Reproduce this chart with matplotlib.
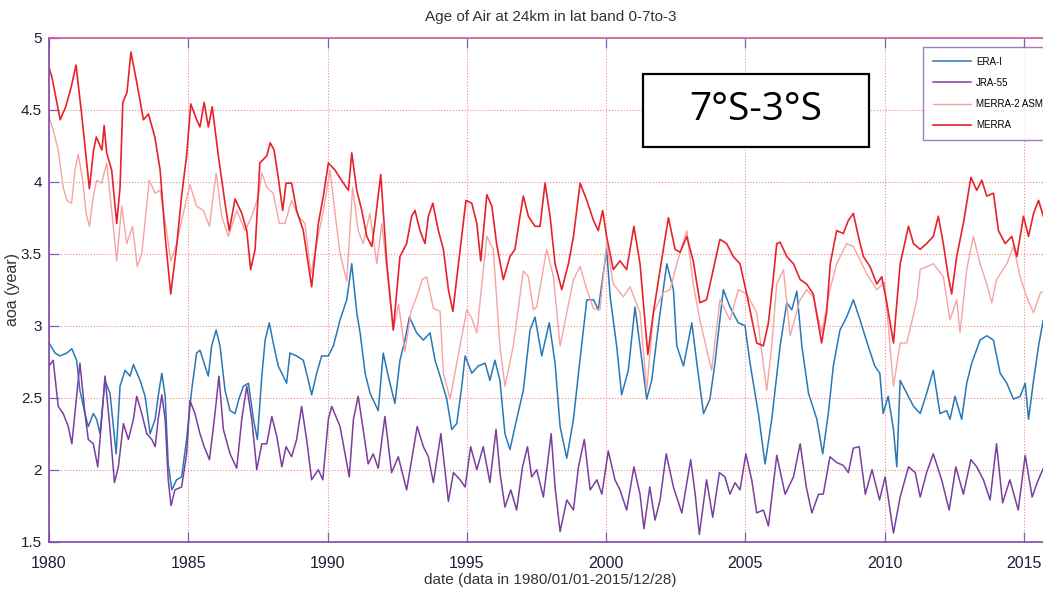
import matplotlib
matplotlib.use("Agg")
import matplotlib.pyplot as plt
from matplotlib.patches import Rectangle

# ---------------------------------------------------------------
# data (decimal year, age of air in years)
# ---------------------------------------------------------------
merra_t = [1980.0, 1980.1, 1980.33, 1980.4, 1980.6, 1980.8, 1980.97, 1981.17, 1981.45, 1981.6,
           1981.7, 1981.9, 1981.98, 1982.07, 1982.25, 1982.43, 1982.55, 1982.65, 1982.8, 1982.94,
           1983.15, 1983.39, 1983.57, 1983.8, 1983.99, 1984.17, 1984.37, 1984.58, 1984.76, 1984.94,
           1985.09, 1985.3, 1985.42, 1985.57, 1985.72, 1985.86, 1986.08, 1986.32, 1986.47, 1986.68,
           1986.92, 1987.1, 1987.24, 1987.4, 1987.57, 1987.82, 1987.94, 1988.08, 1988.23, 1988.39,
           1988.51, 1988.71, 1988.89, 1989.13, 1989.43, 1989.67, 1989.85, 1990.03, 1990.27, 1990.57,
           1990.75, 1990.87, 1991.05, 1991.23, 1991.41, 1991.59, 1991.7, 1991.91, 1992.13, 1992.36,
           1992.6, 1992.84, 1993.02, 1993.14, 1993.32, 1993.5, 1993.62, 1993.78, 1993.98, 1994.16,
           1994.34, 1994.5, 1994.7, 1994.97, 1995.18, 1995.36, 1995.5, 1995.72, 1995.9, 1996.07,
           1996.31, 1996.55, 1996.73, 1996.91, 1997.03, 1997.21, 1997.45, 1997.63, 1997.81, 1997.99,
           1998.17, 1998.41, 1998.65, 1998.83, 1999.07, 1999.31, 1999.55, 1999.72, 1999.88, 2000.02,
           2000.26, 2000.5, 2000.74, 2001.0, 2001.22, 2001.5, 2001.7, 2001.95, 2002.24, 2002.48,
           2002.66, 2002.9, 2003.13, 2003.37, 2003.61, 2003.85, 2004.09, 2004.33, 2004.57, 2004.81,
           2005.05, 2005.41, 2005.65, 2005.83, 2006.0, 2006.13, 2006.25, 2006.49, 2006.73, 2006.97,
           2007.2, 2007.44, 2007.74, 2007.92, 2008.05, 2008.28, 2008.52, 2008.7, 2008.88, 2009.06,
           2009.24, 2009.48, 2009.72, 2009.9, 2010.08, 2010.32, 2010.56, 2010.86, 2011.04, 2011.28,
           2011.51, 2011.75, 2011.93, 2012.11, 2012.29, 2012.41, 2012.59, 2012.83, 2013.1, 2013.31,
           2013.49, 2013.67, 2013.91, 2014.09, 2014.33, 2014.57, 2014.75, 2014.99, 2015.17, 2015.35,
           2015.53, 2015.7, 2015.99]
merra_v = [4.79, 4.73, 4.50, 4.43, 4.52, 4.66, 4.81, 4.47, 3.95, 4.22,
           4.31, 4.22, 4.39, 4.20, 4.08, 3.71, 3.96, 4.55, 4.62, 4.90,
           4.69, 4.43, 4.47, 4.31, 4.08, 3.62, 3.22, 3.55, 3.90, 4.18,
           4.54, 4.43, 4.38, 4.55, 4.38, 4.52, 4.18, 3.85, 3.66, 3.88,
           3.78, 3.66, 3.39, 3.53, 4.13, 4.18, 4.27, 4.22, 4.03, 3.80,
           3.99, 3.99, 3.80, 3.66, 3.27, 3.71, 3.90, 4.13, 4.08, 3.99,
           3.94, 4.20, 3.94, 3.80, 3.62, 3.55, 3.71, 4.05, 3.43, 2.97,
           3.48, 3.57, 3.76, 3.80, 3.66, 3.57, 3.76, 3.85, 3.66, 3.53,
           3.25, 3.10, 3.43, 3.87, 3.85, 3.71, 3.45, 3.91, 3.83, 3.57,
           3.32, 3.48, 3.53, 3.76, 3.90, 3.76, 3.69, 3.69, 3.99, 3.76,
           3.43, 3.25, 3.43, 3.62, 3.99, 3.87, 3.73, 3.66, 3.80, 3.62,
           3.39, 3.45, 3.39, 3.69, 3.43, 2.80, 3.09, 3.40, 3.75, 3.53,
           3.51, 3.62, 3.45, 3.16, 3.18, 3.39, 3.60, 3.57, 3.48, 3.43,
           3.22, 2.88, 2.86, 3.02, 3.32, 3.57, 3.58, 3.48, 3.43, 3.32,
           3.29, 3.22, 2.88, 3.09, 3.43, 3.66, 3.64, 3.73, 3.78, 3.62,
           3.48, 3.41, 3.29, 3.34, 3.16, 2.88, 3.43, 3.69, 3.57, 3.53,
           3.57, 3.62, 3.76, 3.57, 3.34, 3.22, 3.48, 3.71, 4.03, 3.94,
           4.01, 3.90, 3.92, 3.66, 3.57, 3.62, 3.48, 3.76, 3.62, 3.78,
           3.87, 3.76, 3.78]

merra2_t = [1980.0, 1980.15, 1980.33, 1980.51, 1980.64, 1980.81, 1980.93, 1981.05, 1981.21, 1981.33,
            1981.45, 1981.59, 1981.71, 1981.89, 1982.07, 1982.25, 1982.43, 1982.61, 1982.79, 1983.0,
            1983.17, 1983.33, 1983.6, 1983.81, 1983.99, 1984.22, 1984.37, 1984.58, 1984.82, 1985.06,
            1985.3, 1985.54, 1985.76, 1986.0, 1986.2, 1986.44, 1986.74, 1987.04, 1987.28, 1987.52,
            1987.64, 1987.82, 1988.05, 1988.27, 1988.47, 1988.71, 1988.95, 1989.19, 1989.4, 1989.61,
            1989.85, 1990.09, 1990.27, 1990.45, 1990.69, 1990.9, 1991.1, 1991.28, 1991.52, 1991.77,
            1991.95, 1992.13, 1992.36, 1992.55, 1992.78, 1993.0, 1993.2, 1993.4, 1993.56, 1993.8,
            1994.04, 1994.16, 1994.4, 1994.64, 1995.0, 1995.18, 1995.36, 1995.55, 1995.72, 1995.95,
            1996.19, 1996.37, 1996.67, 1997.03, 1997.21, 1997.39, 1997.51, 1997.87, 1998.11, 1998.35,
            1998.59, 1998.83, 1999.07, 1999.31, 1999.55, 1999.78, 2000.02, 2000.26, 2000.62, 2000.86,
            2001.22, 2001.46, 2001.7, 2002.06, 2002.3, 2002.54, 2002.9, 2003.13, 2003.37, 2003.79,
            2004.09, 2004.45, 2004.75, 2005.05, 2005.41, 2005.77, 2005.95, 2006.13, 2006.37, 2006.61,
            2006.97, 2007.2, 2007.44, 2007.74, 2008.04, 2008.28, 2008.64, 2008.88, 2009.06, 2009.36,
            2009.72, 2010.0, 2010.32, 2010.56, 2010.8, 2011.16, 2011.28, 2011.75, 2012.11, 2012.35,
            2012.59, 2012.71, 2012.95, 2013.19, 2013.43, 2013.67, 2013.85, 2014.02, 2014.39, 2014.63,
            2014.87, 2015.1, 2015.35, 2015.6, 2015.99]
merra2_v = [4.45, 4.36, 4.22, 3.96, 3.87, 3.85, 4.08, 4.19, 4.01, 3.78,
            3.69, 3.90, 4.01, 3.99, 4.13, 3.80, 3.45, 3.83, 3.57, 3.69,
            3.41, 3.50, 4.01, 3.92, 3.94, 3.66, 3.45, 3.57, 3.78, 3.98,
            3.83, 3.80, 3.69, 4.06, 3.76, 3.62, 3.80, 3.66, 3.76, 3.90,
            4.06, 3.96, 3.92, 3.71, 3.71, 3.87, 3.76, 3.71, 3.36, 3.57,
            3.80, 4.08, 3.78, 3.50, 3.31, 3.96, 3.66, 3.57, 3.78, 3.43,
            3.71, 3.39, 2.97, 3.15, 2.82, 3.10, 3.20, 3.32, 3.34, 3.12,
            3.10, 2.67, 2.49, 2.74, 3.11, 3.05, 2.95, 3.30, 3.62, 3.53,
            2.86, 2.58, 2.86, 3.38, 3.34, 3.11, 3.13, 3.53, 3.34, 2.86,
            3.09, 3.32, 3.41, 3.25, 3.12, 3.11, 3.57, 3.29, 3.20, 3.27,
            3.09, 2.55, 3.09, 3.23, 3.25, 3.43, 3.66, 3.29, 3.04, 2.69,
            3.18, 3.04, 3.25, 3.22, 3.09, 2.55, 2.86, 3.29, 3.39, 2.93,
            3.18, 3.25, 3.20, 2.95, 3.25, 3.43, 3.57, 3.55, 3.48, 3.36,
            3.25, 3.30, 2.58, 2.88, 2.88, 3.18, 3.39, 3.43, 3.34, 3.04,
            3.18, 2.95, 3.39, 3.62, 3.43, 3.29, 3.16, 3.32, 3.43, 3.55,
            3.34, 3.20, 3.09, 3.23, 3.25]

era_t = [1980.0, 1980.22, 1980.39, 1980.64, 1980.82, 1980.99, 1981.11, 1981.29, 1981.41, 1981.59,
         1981.71, 1981.83, 1982.01, 1982.19, 1982.41, 1982.55, 1982.73, 1982.91, 1983.03, 1983.27,
         1983.45, 1983.63, 1983.81, 1983.92, 1984.05, 1984.17, 1984.28, 1984.41, 1984.58, 1984.76,
         1984.94, 1985.12, 1985.3, 1985.42, 1985.6, 1985.72, 1985.84, 1986.0, 1986.14, 1986.32,
         1986.5, 1986.68, 1986.8, 1986.98, 1987.16, 1987.34, 1987.48, 1987.64, 1987.76, 1987.91,
         1988.05, 1988.23, 1988.41, 1988.53, 1988.65, 1988.89, 1989.13, 1989.31, 1989.43, 1989.61,
         1989.79, 1990.03, 1990.21, 1990.45, 1990.69, 1990.87, 1991.05, 1991.17, 1991.35, 1991.53,
         1991.82, 1992.0, 1992.18, 1992.42, 1992.6, 1992.78, 1992.94, 1993.2, 1993.44, 1993.68,
         1993.86, 1994.04, 1994.28, 1994.46, 1994.64, 1994.82, 1994.94, 1995.18, 1995.41, 1995.66,
         1995.83, 1996.01, 1996.19, 1996.37, 1996.55, 1996.79, 1997.03, 1997.27, 1997.45, 1997.69,
         1997.96, 1998.17, 1998.35, 1998.59, 1998.83, 1999.01, 1999.31, 1999.55, 1999.72, 2000.02,
         2000.15, 2000.38, 2000.56, 2000.8, 2001.04, 2001.22, 2001.46, 2001.64, 2001.88, 2002.18,
         2002.42, 2002.54, 2002.78, 2003.08, 2003.26, 2003.5, 2003.73, 2003.91, 2004.21, 2004.45,
         2004.75, 2004.99, 2005.17, 2005.47, 2005.71, 2005.95, 2006.25, 2006.49, 2006.67, 2006.85,
         2007.03, 2007.27, 2007.57, 2007.78, 2007.98, 2008.16, 2008.4, 2008.64, 2008.88, 2009.12,
         2009.41, 2009.65, 2009.83, 2009.95, 2010.13, 2010.32, 2010.44, 2010.56, 2010.8, 2011.04,
         2011.28, 2011.51, 2011.75, 2011.99, 2012.23, 2012.35, 2012.53, 2012.77, 2012.95, 2013.13,
         2013.43, 2013.67, 2013.91, 2014.15, 2014.39, 2014.63, 2014.87, 2015.05, 2015.17, 2015.35,
         2015.53, 2015.7, 2015.99]
era_v = [2.88, 2.81, 2.79, 2.81, 2.84, 2.76, 2.55, 2.39, 2.30, 2.39,
         2.35, 2.25, 2.62, 2.53, 2.11, 2.58, 2.69, 2.65, 2.73, 2.62,
         2.51, 2.25, 2.35, 2.51, 2.67, 2.51, 2.04, 1.86, 1.93, 1.95,
         2.21, 2.55, 2.81, 2.83, 2.72, 2.65, 2.86, 2.97, 2.86, 2.55,
         2.41, 2.39, 2.48, 2.58, 2.60, 2.35, 2.21, 2.65, 2.90, 3.02,
         2.88, 2.72, 2.65, 2.60, 2.81, 2.79, 2.76, 2.62, 2.52, 2.67,
         2.79, 2.79, 2.86, 3.04, 3.18, 3.43, 3.09, 2.95, 2.67, 2.53,
         2.41, 2.81, 2.65, 2.46, 2.76, 2.90, 3.06, 2.95, 2.90, 2.95,
         2.76, 2.65, 2.49, 2.28, 2.32, 2.58, 2.79, 2.67, 2.72, 2.74,
         2.62, 2.76, 2.62, 2.25, 2.14, 2.35, 2.55, 2.97, 3.06, 2.79,
         3.02, 2.74, 2.30, 2.08, 2.35, 2.67, 3.18, 3.18, 3.11, 3.53,
         3.20, 2.86, 2.52, 2.69, 3.13, 2.86, 2.49, 2.62, 3.00, 3.43,
         3.25, 2.86, 2.72, 3.02, 2.74, 2.39, 2.49, 2.74, 3.25, 3.13,
         3.02, 3.00, 2.74, 2.39, 2.04, 2.35, 2.86, 3.16, 3.11, 3.24,
         2.86, 2.53, 2.35, 2.11, 2.39, 2.72, 2.97, 3.06, 3.18, 3.04,
         2.86, 2.72, 2.67, 2.39, 2.51, 2.28, 2.02, 2.62, 2.53, 2.44,
         2.39, 2.53, 2.69, 2.39, 2.41, 2.35, 2.51, 2.35, 2.60, 2.74,
         2.90, 2.93, 2.90, 2.67, 2.60, 2.49, 2.51, 2.60, 2.35, 2.62,
         2.86, 3.04, 3.10]

jra_t = [1980.0, 1980.15, 1980.33, 1980.51, 1980.69, 1980.82, 1980.93, 1981.11, 1981.29, 1981.41,
         1981.59, 1981.75, 1981.89, 1982.01, 1982.19, 1982.35, 1982.49, 1982.67, 1982.85, 1983.03,
         1983.15, 1983.33, 1983.51, 1983.69, 1983.81, 1983.92, 1984.05, 1984.17, 1984.28, 1984.38,
         1984.52, 1984.76, 1984.94, 1985.06, 1985.24, 1985.42, 1985.57, 1985.76, 1985.96, 1986.1,
         1986.26, 1986.5, 1986.74, 1986.92, 1987.1, 1987.28, 1987.46, 1987.64, 1987.82, 1988.0,
         1988.18, 1988.36, 1988.51, 1988.71, 1988.89, 1989.07, 1989.25, 1989.43, 1989.67, 1989.83,
         1990.03, 1990.15, 1990.45, 1990.63, 1990.78, 1990.93, 1991.1, 1991.28, 1991.46, 1991.64,
         1991.82, 1992.06, 1992.3, 1992.54, 1992.84, 1993.02, 1993.22, 1993.44, 1993.62, 1993.8,
         1994.07, 1994.34, 1994.52, 1994.76, 1994.94, 1995.14, 1995.36, 1995.59, 1995.83, 1996.05,
         1996.19, 1996.37, 1996.58, 1996.79, 1997.0, 1997.18, 1997.33, 1997.51, 1997.75, 1998.03,
         1998.17, 1998.35, 1998.59, 1998.83, 1999.01, 1999.22, 1999.43, 1999.67, 1999.85, 2000.08,
         2000.32, 2000.5, 2000.74, 2001.0, 2001.22, 2001.36, 2001.57, 2001.76, 2001.94, 2002.16,
         2002.42, 2002.72, 2003.04, 2003.2, 2003.35, 2003.61, 2003.83, 2004.07, 2004.27, 2004.45,
         2004.63, 2004.81, 2005.02, 2005.23, 2005.41, 2005.65, 2005.83, 2006.13, 2006.43, 2006.73,
         2006.97, 2007.19, 2007.39, 2007.63, 2007.8, 2008.04, 2008.28, 2008.52, 2008.7, 2008.88,
         2009.09, 2009.31, 2009.55, 2009.82, 2010.02, 2010.32, 2010.56, 2010.86, 2011.1, 2011.28,
         2011.51, 2011.75, 2012.05, 2012.32, 2012.56, 2012.83, 2013.1, 2013.31, 2013.55, 2013.79,
         2014.02, 2014.24, 2014.5, 2014.8, 2015.05, 2015.3, 2015.48, 2015.7, 2015.99]
jra_v = [2.72, 2.76, 2.44, 2.39, 2.30, 2.18, 2.39, 2.74, 2.39, 2.21,
         2.18, 2.02, 2.35, 2.65, 2.28, 1.91, 2.02, 2.32, 2.21, 2.35,
         2.51, 2.39, 2.25, 2.21, 2.16, 2.35, 2.52, 2.35, 1.93, 1.75,
         1.86, 1.88, 2.11, 2.48, 2.39, 2.25, 2.16, 2.07, 2.39, 2.65,
         2.28, 2.11, 2.01, 2.35, 2.58, 2.35, 2.00, 2.18, 2.18, 2.37,
         2.23, 2.02, 2.16, 2.09, 2.21, 2.44, 2.21, 1.93, 2.00, 1.93,
         2.35, 2.44, 2.30, 2.11, 1.95, 2.35, 2.51, 2.28, 2.04, 2.11,
         2.01, 2.37, 1.98, 2.09, 1.86, 2.07, 2.30, 2.16, 2.09, 1.91,
         2.25, 1.78, 1.98, 1.93, 1.88, 2.16, 2.00, 2.16, 1.91, 2.28,
         1.98, 1.74, 1.86, 1.72, 2.02, 2.16, 1.95, 2.00, 1.81, 2.25,
         1.88, 1.57, 1.79, 1.72, 2.02, 2.21, 1.86, 1.93, 1.83, 2.13,
         1.93, 1.86, 1.72, 2.02, 1.83, 1.59, 1.88, 1.65, 1.79, 2.11,
         1.88, 1.70, 2.07, 1.83, 1.55, 1.93, 1.67, 1.98, 1.95, 1.83,
         1.91, 1.86, 2.11, 1.93, 1.70, 1.72, 1.61, 2.10, 1.83, 1.95,
         2.18, 1.88, 1.70, 1.83, 1.83, 2.09, 2.05, 2.03, 1.98, 2.15,
         2.16, 1.83, 2.00, 1.79, 1.95, 1.56, 1.81, 2.02, 1.98, 1.81,
         1.98, 2.11, 1.93, 1.72, 2.02, 1.83, 2.07, 2.02, 1.93, 1.79,
         2.18, 1.77, 1.93, 1.72, 2.10, 1.81, 1.91, 2.01, 2.03]

series_names = ["ERA-I", "JRA-55", "MERRA-2 ASM", "MERRA"]
series_colors = ["#2878b8", "#7a3f9e", "#f7a3a3", "#e8222b"]

year_ticks = [1980, 1985, 1990, 1995, 2000, 2005, 2010, 2015]
aoa_ticks = [1.5, 2, 2.5, 3, 3.5, 4, 4.5, 5]
aoa_labels = ['1.5', '2', '2.5', '3', '3.5', '4', '4.5', '5']

# ---------------------------------------------------------------
# figure
# ---------------------------------------------------------------
plt.rcParams['font.family'] = ['Liberation Sans', 'DejaVu Sans']

fig = plt.figure(figsize=(10.43, 5.97), dpi=100)
# axis runs off the right edge of the picture, like the reference
ax = fig.add_axes([0.047, 0.0926, 0.9613, 0.8443])

data = [(era_t, era_v), (jra_t, jra_v), (merra2_t, merra2_v), (merra_t, merra_v)]
widths = [1.1, 1.1, 1.0, 1.2]
for (t, v), name, c, lw in zip(data, series_names, series_colors, widths):
    ax.plot(t, v, color=c, lw=lw, label=name)

ax.set_xlim(1980, 2016)
ax.set_ylim(1.5, 5)
ax.set_xticks(year_ticks)
ax.set_yticks(aoa_ticks)
ax.set_yticklabels(aoa_labels)

ax.grid(True, linestyle=':', color='#f08a8a', linewidth=0.8)
ax.tick_params(direction='in', length=7, width=0.9, color='#8a5ab5',
               labelsize=11.5, labelcolor='#2a1a3a', top=True, right=True)
ax.tick_params(axis='x', pad=10)
ax.tick_params(axis='y', pad=5, labelsize=11)

for side in ['left', 'bottom', 'right']:
    ax.spines[side].set_color('#7d4aa8')
    ax.spines[side].set_linewidth(1.2)
ax.spines['top'].set_color('#c85a9a')
ax.spines['top'].set_linewidth(1.2)

ax.set_title('Age of Air at 24km in lat band 0-7to-3', fontsize=11, color='#333333', pad=12)
ax.set_xlabel('date (data in 1980/01/01-2015/12/28)', fontsize=11, color='#333333', labelpad=2)
ax.set_ylabel('aoa (year)', fontsize=11.5, color='#333333', labelpad=1)

leg = ax.legend(loc='upper left', bbox_to_anchor=(0.872, 0.9815), fontsize=7,
                frameon=True, fancybox=False, handlelength=3.9, handletextpad=0.5,
                borderpad=1.0, labelspacing=1.15, borderaxespad=0)
leg.get_frame().set_edgecolor('#8a5ab5')
leg.get_frame().set_linewidth(1.0)

# latitude band label in a box
ax.add_patch(Rectangle((0.592, 0.784), 0.226, 0.143, transform=ax.transAxes,
                       facecolor='white', edgecolor='black', linewidth=1.6, zorder=5))
ax.text(0.705, 0.857, '7°S-3°S', transform=ax.transAxes, fontsize=28,
        family=['Open Sans', 'DejaVu Sans'], ha='center', va='center', zorder=6)

fig.savefig('out.png', dpi=100)
